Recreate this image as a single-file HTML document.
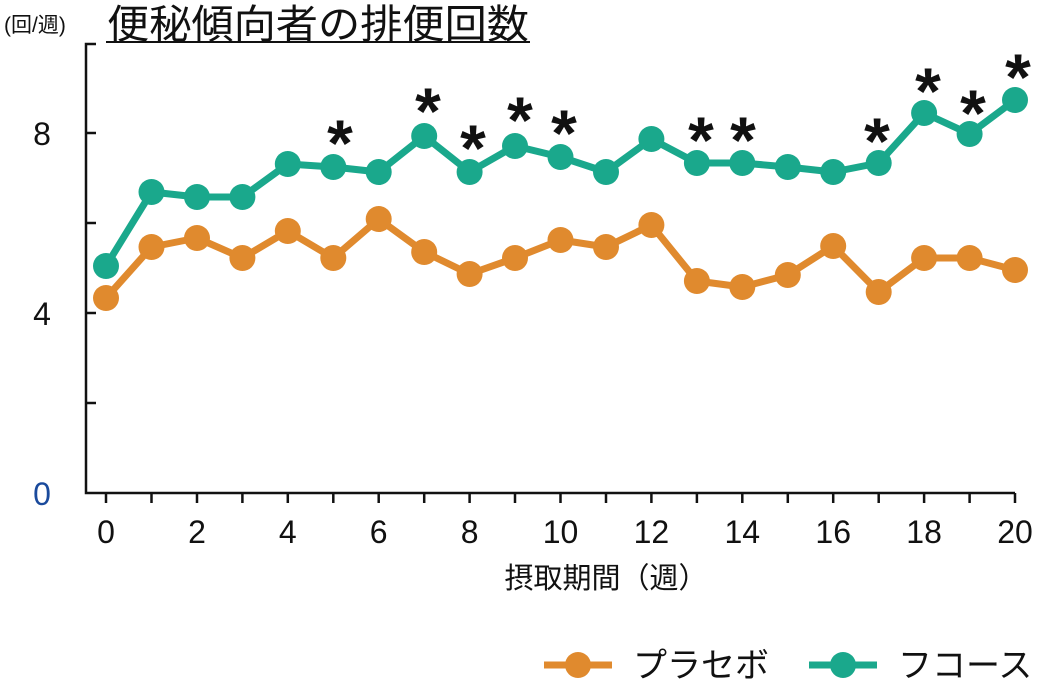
<!DOCTYPE html>
<html><head><meta charset="utf-8"><style>
html,body{margin:0;padding:0;background:#fff;}
svg{display:block;font-family:"Liberation Sans","Noto Sans CJK JP",sans-serif;}
</style></head><body>
<svg width="1045" height="690" viewBox="0 0 1045 690" xmlns="http://www.w3.org/2000/svg">
<text x="4" y="32" font-size="21" fill="#111">(回/週)</text>
<text x="107" y="38" font-size="40" fill="#111" textLength="422" lengthAdjust="spacingAndGlyphs">便秘傾向者の排便回数</text>
<line x1="106" y1="42" x2="530" y2="42" stroke="#111" stroke-width="2"/>
<g stroke="#111" stroke-width="2.5" fill="none">
<polyline points="96,44 86,44 86,493 1015,493"/>
<line x1="86" y1="133" x2="96" y2="133"/><line x1="86" y1="223" x2="96" y2="223"/>
<line x1="86" y1="313" x2="96" y2="313"/><line x1="86" y1="403" x2="96" y2="403"/>
<line x1="106" y1="493" x2="106" y2="503"/><line x1="151.5" y1="493" x2="151.5" y2="503"/>
<line x1="197" y1="493" x2="197" y2="503"/><line x1="242.4" y1="493" x2="242.4" y2="503"/>
<line x1="287.8" y1="493" x2="287.8" y2="503"/><line x1="333.3" y1="493" x2="333.3" y2="503"/>
<line x1="378.7" y1="493" x2="378.7" y2="503"/><line x1="424.2" y1="493" x2="424.2" y2="503"/>
<line x1="469.6" y1="493" x2="469.6" y2="503"/><line x1="515" y1="493" x2="515" y2="503"/>
<line x1="560.5" y1="493" x2="560.5" y2="503"/><line x1="606" y1="493" x2="606" y2="503"/>
<line x1="651.4" y1="493" x2="651.4" y2="503"/><line x1="696.9" y1="493" x2="696.9" y2="503"/>
<line x1="742.3" y1="493" x2="742.3" y2="503"/><line x1="787.8" y1="493" x2="787.8" y2="503"/>
<line x1="833.2" y1="493" x2="833.2" y2="503"/><line x1="878.7" y1="493" x2="878.7" y2="503"/>
<line x1="924.1" y1="493" x2="924.1" y2="503"/><line x1="969.6" y1="493" x2="969.6" y2="503"/>
<line x1="1015" y1="493" x2="1015" y2="503"/>
</g>
<g font-size="32" fill="#111" text-anchor="middle">
<text x="42" y="145">8</text><text x="42" y="325">4</text><text x="42" y="505" fill="#1a4a9c">0</text>
<text x="106" y="543">0</text><text x="197" y="543">2</text><text x="287.8" y="543">4</text>
<text x="378.7" y="543">6</text><text x="469.6" y="543">8</text><text x="560.5" y="543">10</text>
<text x="651.4" y="543">12</text><text x="742.3" y="543">14</text><text x="833.2" y="543">16</text>
<text x="924.1" y="543">18</text><text x="1015" y="543">20</text>
</g>
<text x="606" y="588" font-size="29" fill="#111" text-anchor="middle">摂取期間（週）</text>
<polyline fill="none" stroke="#E08A2E" stroke-width="7" stroke-linejoin="round" points="106,298 151.5,247 197,238 242.4,258 287.8,231 333.3,258 378.7,219 424.2,252 469.6,274 515,258 560.5,240 606,247 651.4,225 696.9,281 742.3,287 787.8,275 833.2,246 878.7,292 924.1,258 969.6,258 1015,270"/>
<g fill="#E08A2E">
<circle cx="106" cy="298" r="13"/><circle cx="151.5" cy="247" r="13"/><circle cx="197" cy="238" r="13"/><circle cx="242.4" cy="258" r="13"/><circle cx="287.8" cy="231" r="13"/><circle cx="333.3" cy="258" r="13"/><circle cx="378.7" cy="219" r="13"/><circle cx="424.2" cy="252" r="13"/><circle cx="469.6" cy="274" r="13"/><circle cx="515" cy="258" r="13"/><circle cx="560.5" cy="240" r="13"/><circle cx="606" cy="247" r="13"/><circle cx="651.4" cy="225" r="13"/><circle cx="696.9" cy="281" r="13"/><circle cx="742.3" cy="287" r="13"/><circle cx="787.8" cy="275" r="13"/><circle cx="833.2" cy="246" r="13"/><circle cx="878.7" cy="292" r="13"/><circle cx="924.1" cy="258" r="13"/><circle cx="969.6" cy="258" r="13"/><circle cx="1015" cy="270" r="13"/>
</g>
<polyline fill="none" stroke="#1AA88C" stroke-width="7" stroke-linejoin="round" points="106,266 151.5,192 197,197 242.4,197 287.8,164 333.3,167 378.7,172 424.2,136 469.6,172 515,146 560.5,157 606,172 651.4,139 696.9,163 742.3,163 787.8,167 833.2,172 878.7,163 924.1,113 969.6,134 1015,100"/>
<g fill="#1AA88C">
<circle cx="106" cy="266" r="13"/><circle cx="151.5" cy="192" r="13"/><circle cx="197" cy="197" r="13"/><circle cx="242.4" cy="197" r="13"/><circle cx="287.8" cy="164" r="13"/><circle cx="333.3" cy="167" r="13"/><circle cx="378.7" cy="172" r="13"/><circle cx="424.2" cy="136" r="13"/><circle cx="469.6" cy="172" r="13"/><circle cx="515" cy="146" r="13"/><circle cx="560.5" cy="157" r="13"/><circle cx="606" cy="172" r="13"/><circle cx="651.4" cy="139" r="13"/><circle cx="696.9" cy="163" r="13"/><circle cx="742.3" cy="163" r="13"/><circle cx="787.8" cy="167" r="13"/><circle cx="833.2" cy="172" r="13"/><circle cx="878.7" cy="163" r="13"/><circle cx="924.1" cy="113" r="13"/><circle cx="969.6" cy="134" r="13"/><circle cx="1015" cy="100" r="13"/>
</g>
<g font-size="66" fill="#111" text-anchor="middle" font-weight="bold">
<text x="340" y="166">*</text><text x="428" y="134">*</text><text x="473" y="171">*</text>
<text x="520" y="143">*</text><text x="564" y="156">*</text><text x="701" y="163">*</text>
<text x="743" y="163">*</text><text x="877" y="164">*</text><text x="928" y="114">*</text>
<text x="973" y="136">*</text><text x="1018" y="100">*</text>
</g>
<line x1="544" y1="665" x2="612" y2="665" stroke="#E08A2E" stroke-width="7"/>
<circle cx="578" cy="665" r="13" fill="#E08A2E"/>
<text x="633" y="677" font-size="34" fill="#111">プラセボ</text>
<line x1="809" y1="665" x2="877" y2="665" stroke="#1AA88C" stroke-width="7"/>
<circle cx="843" cy="665" r="13" fill="#1AA88C"/>
<text x="898" y="677" font-size="34" fill="#111">フコース</text>
</svg>
</body></html>
